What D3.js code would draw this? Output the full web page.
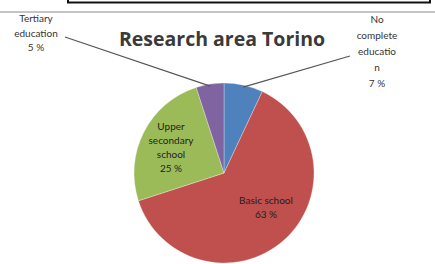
<!DOCTYPE html>
<meta charset="utf-8">
<style>
body { margin: 0; background: #fff; }
text { font-family: Lato, sans-serif; }
.lbl { font-size: 10px; fill: #333; }
.in { fill: #1e1e1e; }
.title { font-family: "Open Sans", sans-serif; font-size: 19.5px; font-weight: bold; fill: #3a3a3a; }
</style>
<svg width="435" height="264"></svg>
<script src="https://cdn.jsdelivr.net/npm/d3@7"></script>
<script>

var categories = ["No complete education", "Basic school", "Upper secondary school", "Tertiary education"];
var values = [7, 63, 25, 5];
var colors = ["#4f81bd", "#c0504d", "#9bbb59", "#8064a2"];
// label lines as they are wrapped in the picture
var labelLines = [
  ["No", "complete", "educatio", "n", "7 %"],
  ["Basic school", "63 %"],
  ["Upper", "secondary", "school", "25 %"],
  ["Tertiary", "education", "5 %"]
];

var svg = d3.select("svg"),
    cx = 224, cy = 173, r = 90;

// frame bits at the top
svg.append("path")
    .attr("d", "M68,0 V2.5 H430 V0")
    .attr("fill", "none").attr("stroke", "#111").attr("stroke-width", 2);
svg.append("line")
    .attr("x1", 0).attr("x2", 435).attr("y1", 12).attr("y2", 12)
    .attr("stroke", "#c4c4c4").attr("stroke-width", 2);

svg.append("text")
    .attr("class", "title")
    .attr("x", 222).attr("y", 46)
    .attr("text-anchor", "middle")
    .text("Research area Torino");

var pie = d3.pie().sort(null).value(function(d) { return d; });
var arcs = pie(values);
var arc = d3.arc().innerRadius(0).outerRadius(r);

var g = svg.append("g").attr("transform", "translate(" + cx + "," + cy + ")");

g.selectAll(".slice")
    .data(arcs)
  .enter().append("path")
    .attr("class", "slice")
    .attr("d", arc)
    .attr("fill", function(d, i) { return colors[i]; })
    .attr("stroke", "#fff")
    .attr("stroke-opacity", 0.5)
    .attr("stroke-width", 0.6);

// inside labels
var inside = [
  {i: 1, x: 266, y: 204, dy: 14},
  {i: 2, x: 171, y: 130, dy: 14}
];
// outside labels with leader lines
var outside = [
  {i: 0, x: 377, y: 23, dy: 16, lx: 350, ly: 56},
  {i: 3, x: 36, y: 22, dy: 14.5, lx: 65, ly: 37}
];

function label(p, cls) {
  var t = svg.append("text").attr("class", cls).attr("text-anchor", "middle");
  labelLines[p.i].forEach(function(s, k) {
    t.append("tspan").attr("x", p.x).attr("y", p.y + k * p.dy).text(s);
  });
}

inside.forEach(function(p) { label(p, "lbl in"); });

var edge = d3.arc().innerRadius(r - 2).outerRadius(r - 2);
outside.forEach(function(p) {
  var c = edge.centroid(arcs[p.i]);
  svg.append("line")
      .attr("x1", p.lx).attr("y1", p.ly)
      .attr("x2", cx + c[0]).attr("y2", cy + c[1])
      .attr("stroke", "#555").attr("stroke-width", 1.2);
  label(p, "lbl");
});

</script>
